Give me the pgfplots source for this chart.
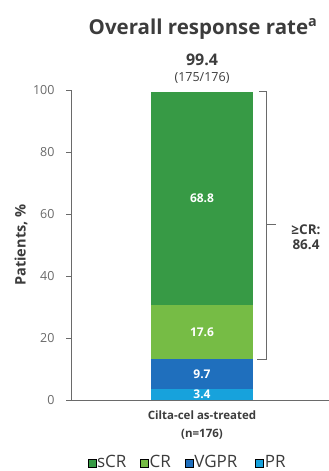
\documentclass[border=0pt]{standalone}
\usepackage{pgfplots}
\pgfplotsset{compat=1.18}
\usepackage{fontspec}
\setmainfont{Open Sans}
\definecolor{scr}{HTML}{379A45}
\definecolor{cr}{HTML}{76BC45}
\definecolor{vgpr}{HTML}{1F6FBD}
\definecolor{pr}{HTML}{17A2DC}
\definecolor{txt}{HTML}{3C3C3C}
\definecolor{axc}{HTML}{6A6A6A}
\begin{document}
\begin{tikzpicture}[x=1pt,y=1pt]
\useasboundingbox (0,0) rectangle (329,471);
\begin{axis}[
  at={(71pt,71pt)}, anchor=south west,
  scale only axis, width=258pt, height=310pt,
  xmin=-131, xmax=127, ymin=0, ymax=100,
  ybar stacked, bar width=102pt,
  axis x line*=bottom, axis y line*=left,
  axis line style={axc, line width=0.8pt, -},
  ytick={0,20,40,60,80,100},
  y tick label style={font=\fontsize{12.5}{14}\selectfont, text=axc, xshift=-8pt},
  tick align=outside, major tick length=5pt,
  ytick style={axc, line width=0.6pt},
  xtick={0}, xticklabels={Cilta-cel as-treated\\(n=176)},
  x tick label style={font=\bfseries\fontsize{11.5}{18}\selectfont, align=center, text=txt, yshift=-2pt},
  xtick style={draw=none},
  /pgf/number format/assume math mode=true,
  clip=false,
  legend style={at={(0.45,-0.2)}, anchor=center, draw=none, fill=none,
    legend columns=4, font=\fontsize{17}{19}\selectfont, text=txt,
    inner sep=0pt,
    /tikz/every odd column/.append style={column sep=0pt},
    /tikz/every even column/.append style={column sep=0pt},
    nodes={inner xsep=1pt}},
  legend cell align=left,
  legend image code/.code={\fill[#1] (0pt,-5pt) rectangle (8pt,3pt);},
]
\addlegendimage{fill=scr}
\addlegendentry{sCR\hspace*{13pt}}
\addlegendimage{fill=cr}
\addlegendentry{CR\hspace*{13pt}}
\addlegendimage{fill=vgpr}
\addlegendentry{VGPR\hspace*{17pt}}
\addlegendimage{fill=pr}
\addlegendentry{PR}
\addplot[fill=pr, draw=none, forget plot] coordinates {(0,3.4)};
\addplot[fill=vgpr, draw=none, forget plot] coordinates {(0,9.7)};
\addplot[fill=cr, draw=none, forget plot] coordinates {(0,17.6)};
\addplot[fill=scr, draw=none, forget plot] coordinates {(0,68.8)};
\coordinate (l1) at (axis cs:0,65.1);
\coordinate (l2) at (axis cs:0,21.9);
\coordinate (l3) at (axis cs:0,8.25);
\coordinate (l4) at (axis cs:0,1.8);
\draw[axc, line width=0.7pt] (axis cs:57,99.5) -- (axis cs:64,99.5) -- (axis cs:64,13.1) -- (axis cs:55,13.1);
\draw[axc, line width=0.7pt] (axis cs:64,56.5) -- (axis cs:74,56.5);
\coordinate (gcr) at (axis cs:104,52.5);
\end{axis}
\begin{scope}[every node/.style={font=\bfseries\fontsize{12}{13}\selectfont, text=white}]
\node at (l1) {68.8};
\node at (l2) {17.6};
\node at (l3) {9.7};
\node at (l4) {3.4};
\end{scope}
\node[font=\bfseries\fontsize{13.5}{14.5}\selectfont, text=txt, align=center] at (gcr) {≥CR:\\86.4};
\node[font=\bfseries\fontsize{20.5}{22}\selectfont, text=txt] at (203,442) {Overall response rate\textsuperscript{a}};
\node[font=\bfseries\fontsize{16}{18}\selectfont, text=txt] at (202,411) {99.4};
\node[font=\fontsize{12.5}{14}\selectfont, text=txt] at (202,393) {(175/176)};
\node[font=\bfseries\fontsize{14.5}{16}\selectfont, text=txt, rotate=90] at (21,226) {Patients, \%};
\end{tikzpicture}
\end{document}
